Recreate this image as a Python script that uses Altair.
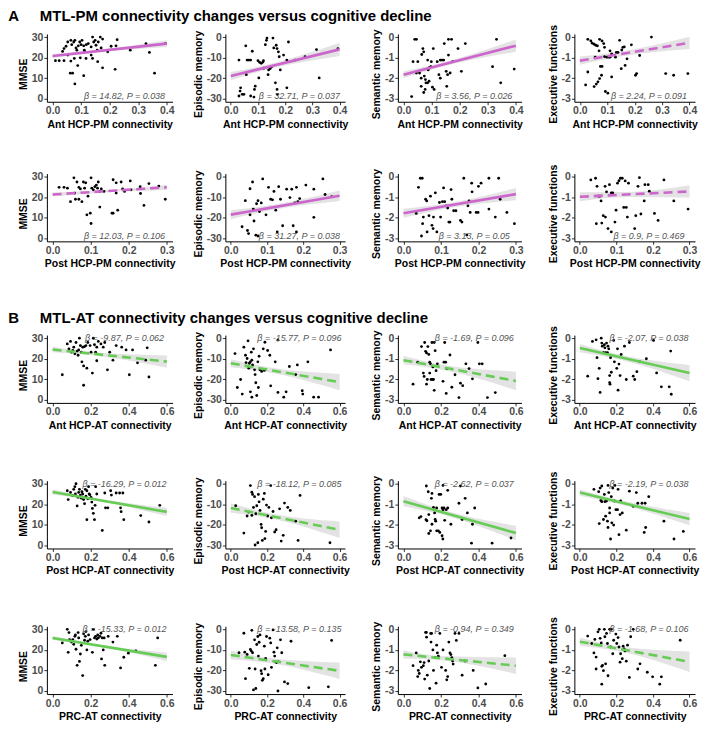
import altair as alt
import pandas as pd

FONT = "Liberation Sans"
PM_COLOR = "#cc66cc"
AT_COLOR = "#66cc55"
BAND_COLOR = "#e3e3e3"

# ---------------- labels / axes ----------------
section_titles = ["A\u00a0\u00a0\u00a0\u00a0\u00a0MTL-PM connectivity changes versus cognitive decline",
                  "B\u00a0\u00a0\u00a0\u00a0\u00a0MTL-AT connectivity changes versus cognitive decline"]
row_titles = ["Ant HCP-PM connectivity", "Post HCP-PM connectivity", "Ant HCP-AT connectivity",
              "Post HCP-AT connectivity", "PRC-AT connectivity"]
row_xmax = [0.4, 0.3, 0.6, 0.6, 0.6]
row_ticks = [[0, 0.1, 0.2, 0.3, 0.4], [0, 0.1, 0.2, 0.3], [0, 0.2, 0.4, 0.6],
             [0, 0.2, 0.4, 0.6], [0, 0.2, 0.4, 0.6]]
row_xbar = [0.13, 0.13, 0.2, 0.2, 0.2]
row_color = [PM_COLOR, PM_COLOR, AT_COLOR, AT_COLOR, AT_COLOR]
row_text_top = [False, False, True, True, True]
col_titles = ["MMSE", "Episodic memory", "Semantic memory", "Executive functions"]
col_ticks = [[0, 10, 20, 30], [-30, -20, -10, 0], [-3, -2, -1, 0], [-3, -2, -1, 0]]
col_lo = [0, -30, -3, -3]
col_hi = [30, 0, 0, 0]
col_text_bottom = [1.3, -28.7, -2.87, -2.87]
col_text_top = [30, 0, 0, 0]

# ---------------- regression lines (value at x=0 and at x=xmax) ----------------
fit_left = [[20.8, -19.0, -1.83, -1.15], [21.3, -18.5, -1.78, -0.98], [24.5, -12.2, -1.07, -0.48],
            [26.0, -11.8, -0.85, -0.43], [25.8, -12.5, -1.22, -0.60]]
fit_right = [[26.8, -6.0, -0.42, -0.28], [24.8, -9.3, -0.85, -0.72], [18.6, -21.4, -2.08, -1.70],
             [16.3, -22.4, -2.40, -1.72], [16.6, -20.2, -1.77, -1.58]]
# confidence band half-widths at x=0, at x=xbar, at x=xmax
band_left = [[1.0, 2.0, 0.17, 0.20], [1.0, 2.2, 0.22, 0.22], [1.3, 2.0, 0.20, 0.20],
             [1.2, 2.3, 0.25, 0.15], [1.0, 2.2, 0.20, 0.20]]
band_mid = [[0.6, 1.2, 0.10, 0.12], [0.5, 1.2, 0.12, 0.12], [0.7, 1.2, 0.12, 0.12],
            [0.6, 1.2, 0.12, 0.10], [0.5, 1.2, 0.10, 0.12]]
band_right = [[1.6, 3.2, 0.30, 0.30], [1.3, 2.5, 0.30, 0.30], [3.0, 4.0, 0.45, 0.40],
              [2.0, 4.0, 0.35, 0.30], [2.0, 4.0, 0.40, 0.50]]
significant = [[True, True, True, False], [False, True, True, False], [False, False, False, True],
               [True, False, True, True], [True, False, False, False]]
betas = [["14.82", "32.71", "3.56", "2.24"], ["12.03", "31.27", "3.13", "0.9"],
         ["-9.87", "-15.77", "-1.69", "-2.07"], ["-16.29", "-18.12", "-2.62", "-2.19"],
         ["-15.33", "-13.58", "-0.94", "-1.68"]]
pvals = [["0.038", "0.037", "0.026", "0.091"], ["0.106", "0.038", "0.05", "0.469"],
         ["0.062", "0.096", "0.096", "0.038"], ["0.012", "0.085", "0.037", "0.038"],
         ["0.012", "0.135", "0.349", "0.106"]]

# ---------------- scatter points (x, y) ----------------
ant_pm_mmse = [(0.01, 18.5), (0.023, 18.5), (0.035, 23), (0.04, 18.5), (0.04, 24.4), (0.047, 25.5), (0.053, 27.6), (0.053, 21.2), (0.062, 12.4), (0.064, 28.4), (0.064, 18.3), (0.067, 26.3), (0.07, 12.4), (0.074, 27.6), (0.076, 19.6), (0.078, 28.4), (0.078, 7.2), (0.082, 24.7), (0.085, 23.6), (0.088, 16.1), (0.09, 25.7), (0.095, 27.6), (0.097, 19.9), (0.1, 26.3), (0.103, 28.4), (0.109, 25.7), (0.109, 11.2), (0.111, 23.6), (0.113, 22.8), (0.117, 19.6), (0.118, 26.3), (0.125, 26.8), (0.135, 25.2), (0.135, 21.2), (0.14, 30), (0.14, 19.6), (0.144, 27.6), (0.149, 28.4), (0.152, 26), (0.156, 23.6), (0.158, 18), (0.16, 27.6), (0.167, 30), (0.17, 24.7), (0.175, 29), (0.175, 15), (0.193, 22.8), (0.205, 25.5), (0.219, 14.3), (0.222, 25.7), (0.226, 28.7), (0.272, 23.6), (0.327, 26.8), (0.339, 22.5), (0.357, 12.4), (0.395, 26.8)]
ant_pm_episodic = [(0.03, -11.2), (0.03, -28.7), (0.034, -26.3), (0.036, -24.7), (0.042, -27.9), (0.048, -27.9), (0.055, -4.3), (0.057, -18.3), (0.06, -11.2), (0.066, -11.2), (0.073, -11.2), (0.073, -28.7), (0.079, -6.9), (0.085, -29.2), (0.087, -25.5), (0.09, -23.9), (0.1, -11.5), (0.103, -19.9), (0.106, -12.3), (0.112, -12.8), (0.118, -12.2), (0.121, -15.2), (0.12, -11.5), (0.127, -3.7), (0.131, -1.6), (0.133, -0.5), (0.137, -18.3), (0.139, -16), (0.145, -15.3), (0.15, -14.4), (0.155, -0.5), (0.158, -5.3), (0.164, -22.3), (0.167, -4), (0.17, -5.6), (0.17, -25.5), (0.172, -27.9), (0.175, -7.2), (0.178, -9.6), (0.182, -16), (0.194, -8.8), (0.206, -11.2), (0.206, -24.7), (0.212, -2.4), (0.236, -11.2), (0.273, -9.6), (0.315, -6.1), (0.325, -19.9), (0.394, -5.6)]
ant_pm_semantic = [(0.029, -2.9), (0.034, -1.2), (0.04, -0.11), (0.046, -0.11), (0.046, -1.75), (0.051, -1.2), (0.057, -1.75), (0.063, -2.0), (0.063, -2.4), (0.065, -0.85), (0.069, -0.56), (0.072, -0.72), (0.072, -2.7), (0.074, -1.9), (0.077, -2.55), (0.078, -2.07), (0.08, -2.23), (0.086, -2.23), (0.086, -1.12), (0.088, -1.6), (0.091, -2.15), (0.091, -1.5), (0.097, -1.44), (0.099, -1.2), (0.103, -2.44), (0.106, -0.56), (0.109, -2.55), (0.12, -1.2), (0.126, -1.83), (0.131, -1.12), (0.131, -2.0), (0.137, -1.12), (0.143, -1.12), (0.145, -0.32), (0.152, -1.67), (0.154, -2.4), (0.157, -1.83), (0.16, -0.11), (0.16, -0.88), (0.166, -1.75), (0.171, -0.11), (0.175, -1.2), (0.194, -0.56), (0.206, -1.67), (0.22, -0.32), (0.317, -1.44), (0.331, -0.11), (0.346, -2.23), (0.394, -1.56)]
ant_pm_exec = [(0.021, -2.33), (0.029, -0.11), (0.029, -1.7), (0.04, -0.19), (0.045, -0.3), (0.052, -0.35), (0.052, -2.41), (0.056, -0.98), (0.058, -0.4), (0.06, -2.29), (0.064, -0.43), (0.066, -2.18), (0.07, -0.67), (0.072, -0.11), (0.072, -2.02), (0.079, -1.86), (0.081, -0.19), (0.081, -1.43), (0.075, -1.43), (0.087, -0.32), (0.09, -0.5), (0.09, -0.95), (0.093, -2.65), (0.098, -0.98), (0.102, -2.73), (0.104, -0.98), (0.11, -0.67), (0.11, -0.98), (0.116, -0.82), (0.116, -1.94), (0.13, -0.98), (0.133, -0.75), (0.139, -0.75), (0.145, -0.16), (0.151, -1.54), (0.153, -0.63), (0.157, -0.5), (0.162, -0.48), (0.165, -1.38), (0.172, -1.06), (0.188, -0.38), (0.203, -1.86), (0.207, -1.78), (0.218, -0.9), (0.261, 0.0), (0.313, -1.78), (0.342, -1.86), (0.394, -1.78)]

post_pm_mmse = [(0.017, 24.8), (0.03, 24.8), (0.039, 24.4), (0.047, 17.8), (0.056, 29.4), (0.058, 22), (0.06, 19), (0.064, 27.4), (0.069, 24.8), (0.069, 19), (0.073, 24), (0.077, 17.8), (0.081, 27.4), (0.084, 24.4), (0.087, 27), (0.09, 11.4), (0.093, 20.5), (0.099, 12.2), (0.101, 29.4), (0.101, 7.2), (0.103, 24.4), (0.107, 23.6), (0.111, 25.1), (0.115, 25.9), (0.118, 24.4), (0.12, 27.4), (0.124, 22.8), (0.124, 15.2), (0.128, 24), (0.135, 22.8), (0.156, 12.2), (0.159, 12.2), (0.159, 28.5), (0.167, 27), (0.167, 22), (0.171, 13.7), (0.18, 27.4), (0.184, 24), (0.189, 22.8), (0.204, 27.9), (0.206, 23.6), (0.23, 25.1), (0.231, 21.8), (0.24, 16), (0.253, 26.6), (0.279, 25.4), (0.296, 19)]
post_pm_episodic = [(0.031, -24.4), (0.04, -11.7), (0.046, -26.2), (0.049, -27.7), (0.053, -5.9), (0.053, -18.6), (0.06, -2.6), (0.062, -15.8), (0.064, -21.6), (0.069, -28.5), (0.071, -13.2), (0.075, -11.7), (0.075, -28.9), (0.079, -17), (0.084, -12.8), (0.088, -1.1), (0.097, -18.6), (0.104, -5.2), (0.11, -11), (0.115, -11.3), (0.119, -7.2), (0.124, -16.3), (0.128, -26.9), (0.132, -4.9), (0.137, -11), (0.143, -23.9), (0.154, -6.1), (0.163, -10.2), (0.168, -6.1), (0.172, -23.9), (0.177, -12.8), (0.181, -26.9), (0.181, -5.2), (0.185, -12.2), (0.19, -10.7), (0.207, -4.1), (0.229, -6.1), (0.229, -19.8), (0.254, -1.1), (0.26, -8.7), (0.278, -9.7)]
post_pm_semantic = [(0.034, -1.79), (0.04, -0.52), (0.045, -0.08), (0.05, -0.08), (0.048, -2.89), (0.051, -2.29), (0.053, -1.97), (0.059, -1.1), (0.062, -1.18), (0.063, -2.69), (0.068, -1.9), (0.072, -0.95), (0.076, -2.37), (0.079, -2.53), (0.08, -1.97), (0.085, -0.79), (0.089, -2.69), (0.096, -1.26), (0.099, -1.97), (0.104, -1.22), (0.11, -1.22), (0.107, -0.55), (0.114, -1.42), (0.118, -1.53), (0.121, -2.21), (0.124, -2.21), (0.127, -0.63), (0.129, -1.1), (0.134, -1.66), (0.14, -1.66), (0.152, -2.13), (0.156, -2.21), (0.161, -0.08), (0.169, -2.84), (0.172, -1.42), (0.175, -1.18), (0.178, -1.74), (0.182, -0.32), (0.183, -0.74), (0.194, -1.74), (0.199, -1.74), (0.2, -0.47), (0.207, -0.32), (0.228, -0.08), (0.228, -1.58), (0.245, -1.97), (0.254, -0.08), (0.258, -1.1), (0.276, -1.74), (0.296, -2.29)]
post_pm_exec = [(0.03, -0.16), (0.043, -0.08), (0.045, -2.29), (0.047, -0.47), (0.051, -0.95), (0.055, -0.95), (0.058, -1.18), (0.06, -2.26), (0.064, -1.9), (0.069, -0.47), (0.07, -1.97), (0.073, -0.74), (0.077, -2.53), (0.081, -0.39), (0.086, -2.69), (0.086, -0.79), (0.09, -0.79), (0.096, -2.21), (0.099, -1.63), (0.103, -0.32), (0.107, -0.2), (0.111, -0.08), (0.116, -0.08), (0.12, -1.5), (0.127, -1.5), (0.124, -0.21), (0.13, -1.97), (0.133, -0.32), (0.15, -2.53), (0.153, -1.9), (0.159, -0.47), (0.163, -0.05), (0.167, -1.82), (0.176, -1.18), (0.178, -0.39), (0.187, -0.39), (0.19, -0.71), (0.204, -1.79), (0.214, -2.13), (0.23, -0.16), (0.257, -1.18), (0.296, -1.58)]

ant_at_mmse = [(0.051, 12.2), (0.077, 27.2), (0.086, 24.8), (0.094, 28.4), (0.1, 23.2), (0.106, 24), (0.111, 25.6), (0.117, 22.4), (0.123, 27.9), (0.129, 23.7), (0.134, 21.7), (0.137, 24.3), (0.141, 30), (0.146, 26.4), (0.151, 23.2), (0.154, 18.5), (0.158, 25.6), (0.163, 16.5), (0.163, 7.1), (0.168, 25.9), (0.175, 26.4), (0.18, 15.4), (0.185, 27.9), (0.197, 26.4), (0.202, 23.2), (0.209, 13), (0.214, 30), (0.22, 26.8), (0.226, 23.2), (0.232, 25.6), (0.232, 19), (0.24, 28.4), (0.254, 27.2), (0.266, 25.6), (0.274, 27.9), (0.288, 14.6), (0.3, 23.2), (0.317, 19.3), (0.334, 26.4), (0.363, 25.6), (0.386, 24.3), (0.403, 12.2), (0.42, 24.3), (0.446, 18), (0.489, 19.3), (0.497, 25.3), (0.506, 11.1)]
ant_at_episodic = [(0.023, -7.5), (0.036, -24), (0.054, -20.1), (0.063, -27.2), (0.072, -4.4), (0.081, -8.3), (0.084, -11.9), (0.09, -9.9), (0.095, -1.3), (0.099, -14.6), (0.102, -12.2), (0.108, -11.5), (0.108, -26.1), (0.113, -6.8), (0.116, -10.7), (0.116, -28.7), (0.12, -13), (0.125, -5.2), (0.131, -15.4), (0.134, -17.7), (0.138, -21.7), (0.143, -27.9), (0.149, -11.5), (0.152, -24), (0.156, -8.8), (0.161, -15.4), (0.17, -16.2), (0.179, -5.2), (0.185, -15.7), (0.188, -2), (0.203, -6), (0.215, -8.3), (0.22, -23.2), (0.245, -11.5), (0.26, -26.4), (0.26, -0.9), (0.292, -28.7), (0.305, -26.1), (0.323, -13.8), (0.358, -17.7), (0.367, -13), (0.394, -25.6), (0.397, -27.2), (0.425, -11.5), (0.457, -28.7), (0.484, -28.7), (0.55, -5.7)]
ant_at_semantic = [(0.051, -2.24), (0.076, -1.17), (0.096, -0.41), (0.106, -1.7), (0.11, -1.86), (0.113, -0.21), (0.118, -0.64), (0.123, -0.72), (0.123, -2.24), (0.127, -2.01), (0.13, -0.41), (0.135, -0.79), (0.14, -1.7), (0.14, -1.17), (0.144, -1.25), (0.147, -2.01), (0.152, -0.21), (0.155, -2.01), (0.157, -1.4), (0.16, -2.01), (0.164, -0.21), (0.164, -2.54), (0.169, -0.61), (0.174, -1.58), (0.181, -1.25), (0.211, -2.1), (0.216, -1.17), (0.22, -0.21), (0.225, -1.17), (0.228, -2.69), (0.231, -1.48), (0.248, -0.82), (0.258, -2.39), (0.275, -1.78), (0.296, -2.89), (0.304, -2.19), (0.316, -2.31), (0.333, -1.25), (0.35, -1.48), (0.368, -1.98), (0.397, -0.21), (0.405, -1.25), (0.42, -1.25), (0.448, -2.89), (0.49, -2.65)]
ant_at_exec = [(0.043, -1.85), (0.069, -0.16), (0.089, -0.08), (0.094, -0.95), (0.099, -1.97), (0.106, -1.47), (0.111, -2.64), (0.117, 0.0), (0.12, -0.24), (0.123, -0.39), (0.129, -0.71), (0.134, -0.32), (0.137, -0.47), (0.141, -0.71), (0.146, -0.24), (0.151, -0.71), (0.154, -0.39), (0.158, -0.52), (0.163, -1.82), (0.163, -2.16), (0.165, -2.24), (0.168, -0.95), (0.172, -1.66), (0.185, -0.11), (0.189, -1.15), (0.202, -1.47), (0.206, -0.52), (0.209, -2.53), (0.214, -1.26), (0.22, -1.82), (0.226, -0.79), (0.244, -0.39), (0.254, -2.01), (0.271, -0.21), (0.292, -1.85), (0.3, -2.01), (0.312, -1.63), (0.329, -1.15), (0.364, -1.0), (0.403, -0.11), (0.42, -1.69), (0.446, -2.37), (0.489, -2.37), (0.497, -0.63), (0.5, -2.73)]

post_at_mmse = [(0.077, 26.6), (0.082, 22.3), (0.094, 25.8), (0.106, 24.2), (0.111, 27.3), (0.117, 28.6), (0.12, 25), (0.123, 30), (0.129, 19.2), (0.134, 23.4), (0.137, 25.8), (0.141, 27.3), (0.146, 24.5), (0.151, 23), (0.154, 26.1), (0.158, 25), (0.163, 22.3), (0.168, 20.3), (0.172, 27.3), (0.175, 23.9), (0.18, 12.5), (0.18, 26.6), (0.185, 22.7), (0.189, 28.6), (0.192, 25), (0.196, 24.6), (0.202, 23.4), (0.206, 21.1), (0.209, 18), (0.214, 15.6), (0.22, 12.5), (0.223, 19.5), (0.226, 28.6), (0.232, 25), (0.261, 7.3), (0.274, 25.5), (0.278, 18.3), (0.29, 18.3), (0.305, 26.6), (0.309, 24.5), (0.334, 25.5), (0.352, 25.5), (0.357, 18.3), (0.36, 16.4), (0.369, 25.5), (0.374, 12.5), (0.463, 14.5), (0.506, 11.4), (0.563, 19.5)]
post_at_episodic = [(0.027, -10.7), (0.072, -24), (0.09, -15.7), (0.099, -13.8), (0.108, -0.9), (0.116, -4.1), (0.116, -15.4), (0.12, -5.2), (0.125, -11.5), (0.131, -6.3), (0.134, -29.8), (0.138, -14.6), (0.143, -10.7), (0.149, -28.7), (0.152, -5.2), (0.156, -8.8), (0.161, -13), (0.167, -19.8), (0.17, -21.4), (0.174, -27.6), (0.179, -7.5), (0.185, -4.7), (0.188, -26.7), (0.192, -23.2), (0.197, -10.4), (0.203, -15.7), (0.21, -11.5), (0.22, -0.9), (0.224, -16.6), (0.233, -13.5), (0.242, -23.5), (0.25, -22.4), (0.269, -12.2), (0.278, -27.9), (0.289, -25.1), (0.296, -9.4), (0.314, -11.5), (0.328, -13), (0.358, -18.2), (0.371, -27.6), (0.382, -5.7), (0.547, -28.7)]
post_at_semantic = [(0.084, -1.66), (0.093, -1.6), (0.12, -1.75), (0.122, -0.11), (0.125, -1.8), (0.132, -0.39), (0.135, -1.5), (0.135, -2.42), (0.144, -2.29), (0.149, -0.71), (0.152, -1.97), (0.152, -0.47), (0.16, -1.15), (0.166, -1.42), (0.169, -1.74), (0.172, -1.82), (0.177, -1.18), (0.177, -2.29), (0.186, -2.29), (0.194, -2.37), (0.19, -0.52), (0.199, -0.52), (0.206, -2.53), (0.21, -2.69), (0.206, -1.18), (0.211, -1.26), (0.211, -0.08), (0.216, -1.18), (0.22, -1.78), (0.228, -1.26), (0.236, -1.18), (0.236, -0.32), (0.253, -1.97), (0.296, -0.95), (0.304, -0.11), (0.313, -1.74), (0.329, -0.71), (0.341, -1.42), (0.363, -2.89), (0.368, -1.97), (0.38, -1.18), (0.473, -2.89), (0.574, -2.64)]
post_at_exec = [(0.077, -0.27), (0.103, -0.39), (0.106, -1.94), (0.111, -0.21), (0.115, -0.82), (0.12, -0.87), (0.12, -0.11), (0.129, -1.74), (0.134, -0.52), (0.137, -0.87), (0.141, -1.58), (0.146, -0.84), (0.151, -1.82), (0.154, -0.08), (0.154, -2.13), (0.158, -0.43), (0.163, -1.18), (0.163, -1.42), (0.168, -2.69), (0.172, -0.63), (0.175, -1.9), (0.18, -0.21), (0.185, -2.01), (0.189, -0.84), (0.192, -0.08), (0.197, -1.26), (0.206, -1.26), (0.209, -0.27), (0.214, -2.48), (0.22, -1.5), (0.223, -0.84), (0.232, -1.42), (0.254, -2.26), (0.271, -0.36), (0.292, -1.1), (0.309, -0.43), (0.317, -0.95), (0.34, -0.95), (0.352, -2.37), (0.36, -2.13), (0.357, -0.95), (0.377, -0.63), (0.46, -1.82), (0.515, -2.69), (0.566, -2.32)]

prc_at_mmse = [(0.051, 23.4), (0.077, 30), (0.082, 18.8), (0.086, 28.4), (0.089, 25), (0.099, 23.8), (0.106, 25), (0.111, 22.7), (0.117, 26.6), (0.12, 27.3), (0.123, 20.3), (0.129, 12.5), (0.134, 28.4), (0.137, 25.8), (0.141, 14.4), (0.146, 18), (0.151, 22.2), (0.158, 7.5), (0.163, 27.8), (0.168, 24.7), (0.172, 26.6), (0.175, 28.9), (0.18, 20), (0.185, 24.2), (0.189, 27.3), (0.197, 25), (0.209, 18.8), (0.214, 30), (0.22, 25.8), (0.226, 26.6), (0.232, 25.3), (0.237, 27.3), (0.24, 25.8), (0.249, 26.6), (0.254, 28.1), (0.257, 15.6), (0.261, 25.8), (0.266, 20), (0.271, 25.8), (0.274, 12.5), (0.292, 26.6), (0.317, 23.8), (0.34, 26.6), (0.357, 11.2), (0.374, 16.4), (0.398, 18.4), (0.437, 19.5), (0.54, 12.5), (0.552, 25.8)]
prc_at_episodic = [(0.045, -11.4), (0.072, -1.9), (0.077, -11.1), (0.081, -24), (0.09, -12.2), (0.102, -19), (0.108, -9.8), (0.113, -10.6), (0.116, -0.5), (0.12, -11.4), (0.125, -29.5), (0.131, -5.1), (0.134, -19.3), (0.138, -28.8), (0.143, -7.4), (0.149, -3.5), (0.152, -13), (0.156, -6.3), (0.161, -2.7), (0.167, -20.1), (0.17, -21.6), (0.174, -24.8), (0.179, -24), (0.185, -8.2), (0.188, -19.3), (0.192, -14.2), (0.197, -3.5), (0.206, -22.1), (0.215, -4.3), (0.22, -6.6), (0.224, -18.5), (0.233, -0.3), (0.238, -11.1), (0.242, -13), (0.247, -15.8), (0.252, -16.2), (0.256, -9), (0.26, -30), (0.263, -15.8), (0.274, -5.1), (0.281, -11.4), (0.296, -25.6), (0.314, -26.4), (0.332, -5.8), (0.43, -28.4), (0.538, -28), (0.556, -5.4)]
prc_at_semantic = [(0.051, -1.77), (0.068, -1.15), (0.076, -2.3), (0.079, -2.0), (0.084, -2.15), (0.09, -1.58), (0.096, -1.85), (0.106, -1.77), (0.11, -1.62), (0.113, -2.42), (0.118, -0.15), (0.122, -0.15), (0.123, -0.38), (0.127, -2.23), (0.135, -1.54), (0.14, -2.88), (0.145, -0.2), (0.15, -0.2), (0.147, -0.62), (0.157, -1.0), (0.16, -2.0), (0.169, -1.38), (0.174, -2.62), (0.177, -0.77), (0.181, -1.15), (0.186, -1.31), (0.194, -0.2), (0.203, -1.85), (0.211, -1.0), (0.225, -2.0), (0.231, -2.46), (0.236, -2.3), (0.242, -0.62), (0.248, -1.15), (0.253, -1.23), (0.258, -1.38), (0.262, -1.54), (0.265, -1.69), (0.275, -0.2), (0.282, -0.54), (0.296, -0.2), (0.313, -2.23), (0.329, -1.54), (0.372, -2.0), (0.397, -2.85), (0.439, -2.66), (0.541, -1.28)]
prc_at_exec = [(0.043, -0.33), (0.065, -0.69), (0.077, -1.15), (0.082, -0.49), (0.089, -1.35), (0.089, -1.93), (0.099, -0.12), (0.106, 0.0), (0.111, -0.44), (0.117, -0.66), (0.12, -1.8), (0.124, -1.75), (0.12, -2.67), (0.129, -2.01), (0.134, 0.0), (0.137, -0.36), (0.141, -1.68), (0.146, -0.2), (0.151, -0.69), (0.154, -2.26), (0.163, 0.0), (0.168, -0.86), (0.172, 0.0), (0.18, -1.19), (0.185, -0.53), (0.197, -0.23), (0.202, -0.69), (0.209, -0.4), (0.214, -0.86), (0.22, -1.6), (0.223, -1.19), (0.232, -1.43), (0.237, -0.82), (0.242, -0.95), (0.247, -1.05), (0.254, -1.55), (0.261, -0.77), (0.271, -2.34), (0.278, -0.36), (0.292, 0.0), (0.317, -1.93), (0.329, -1.68), (0.369, -2.09), (0.398, -2.31), (0.437, -2.67), (0.446, -2.31), (0.549, -0.53)]

points = [
    [ant_pm_mmse, ant_pm_episodic, ant_pm_semantic, ant_pm_exec],
    [post_pm_mmse, post_pm_episodic, post_pm_semantic, post_pm_exec],
    [ant_at_mmse, ant_at_episodic, ant_at_semantic, ant_at_exec],
    [post_at_mmse, post_at_episodic, post_at_semantic, post_at_exec],
    [prc_at_mmse, prc_at_episodic, prc_at_semantic, prc_at_exec],
]

# ---------------- layout ----------------
col_width = [126, 120, 124, 121]
row_height = 68
MINUS = "\u2212"


def make_panel(r, c):
    xmax = row_xmax[r]
    xdom = [-0.05 * xmax, 1.05 * xmax]
    span = col_hi[c] - col_lo[c]
    ydom = [col_lo[c] - 0.05 * span, col_hi[c] + 0.05 * span]

    x_enc = alt.X("x:Q", scale=alt.Scale(domain=xdom, nice=False, zero=False),
                  axis=alt.Axis(values=row_ticks[r], format=".1f", title=row_titles[r]))
    y_axis_kw = dict(values=col_ticks[c], format="d", title=col_titles[c],
                     titleY=row_height / 2 + 6,
                     labelExpr="replace(datum.label, '" + MINUS + "', '-')")
    if c == 3:
        y_axis_kw["titleLimit"] = 104
    y_enc = alt.Y("y:Q", scale=alt.Scale(domain=ydom, nice=False, zero=False),
                  axis=alt.Axis(**y_axis_kw))

    y0, y1 = fit_left[r][c], fit_right[r][c]
    xb = row_xbar[r]
    bx = [0.0, xb, xmax]
    bc = [y0, y0 + (y1 - y0) * xb / xmax, y1]
    bh = [band_left[r][c], band_mid[r][c], band_right[r][c]]
    df_band = pd.DataFrame({"x": bx, "y": [m - h for m, h in zip(bc, bh)],
                            "y2": [m + h for m, h in zip(bc, bh)]})
    df_line = pd.DataFrame({"x": [0.0, xmax], "y": [y0, y1]})
    df_pts = pd.DataFrame(points[r][c], columns=["x", "y"])
    ty = col_text_top[c] if row_text_top[r] else col_text_bottom[c]
    df_txt = pd.DataFrame({"x": [0.63 * xmax], "y": [ty],
                           "label": ["\u03b2 = " + betas[r][c] + ", P = " + pvals[r][c]]})

    band = alt.Chart(df_band).mark_area(color=BAND_COLOR, interpolate="monotone").encode(
        x=x_enc, y=y_enc, y2="y2:Q")
    pts = alt.Chart(df_pts).mark_circle(size=8, color="black", opacity=1).encode(x=x_enc, y=y_enc)
    line_kw = dict(color=row_color[r], strokeWidth=2.6)
    if not significant[r][c]:
        line_kw["strokeDash"] = [9, 5]
    line = alt.Chart(df_line).mark_line(**line_kw).encode(x=x_enc, y=y_enc)
    txt = alt.Chart(df_txt).mark_text(font=FONT, fontStyle="italic", fontSize=9,
                                      color="#555555", baseline="middle").encode(
        x=x_enc, y=y_enc, text="label:N")
    return alt.layer(band, pts, line, txt).properties(width=col_width[c], height=row_height)


def block(rows, title, row_gap, offset):
    panels = [make_panel(r, c) for r in rows for c in range(4)]
    return alt.concat(*panels, columns=4, bounds="flush",
                      spacing={"row": row_gap, "column": 53},
                      title=alt.TitleParams(title, anchor="start", font=FONT, fontSize=15,
                                            fontWeight="bold", color="black", offset=offset,
                                            dx=-10))


chart = alt.vconcat(block([0, 1], section_titles[0], 72, 0),
                    block([2, 3, 4], section_titles[1], 78, 0),
                    spacing=41).properties(
    padding={"left": 0, "top": 0, "right": 0, "bottom": 0}
).configure_axis(
    grid=False, labelFont=FONT, labelFontSize=10.5, labelFontWeight="bold", labelColor="#4d4d4d",
    titleFont=FONT, titleFontSize=10.5, titleFontWeight="bold", titleColor="black",
    domainColor="black", domainWidth=1, tickColor="#333333", tickSize=3,
    labelPadding=1, titlePadding=3
).configure_view(stroke=None)

chart.save("out.html", embed_options={"renderer": "svg", "actions": False})
